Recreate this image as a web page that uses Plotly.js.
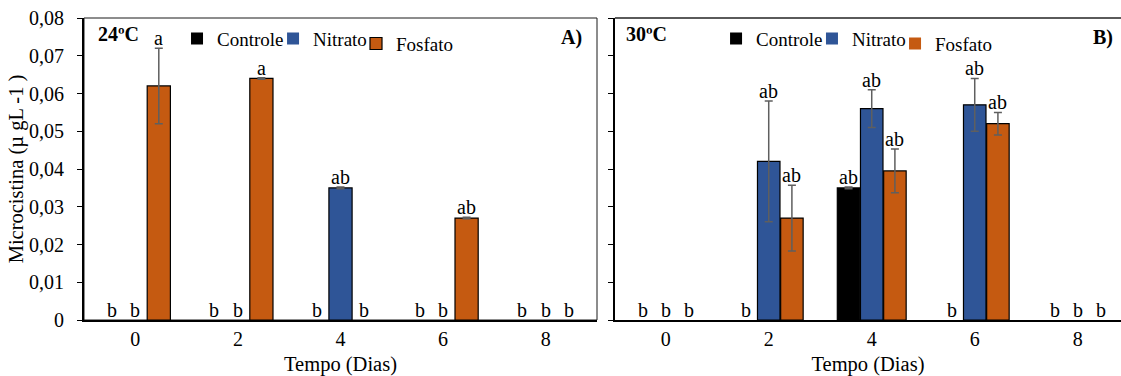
<!DOCTYPE html>
<html><head><meta charset="utf-8">
<script src="https://cdn.plot.ly/plotly-3.0.1.min.js"></script>
<style>html,body{margin:0;padding:0;background:#fff}#chart{width:1121px;height:376px}</style>
</head><body><div id="chart"></div>
<script>
// ---- data ----
const days = [0, 2, 4, 6, 8];
const seriesNames = ['Controle', 'Nitrato', 'Fosfato'];

// 24 ºC (panel A)
const controle24 = [0, 0, 0, 0, 0];
const nitrato24 = [0, 0, 0.035, 0, 0];
const fosfato24 = [0.062, 0.064, 0, 0.027, 0];
const controle24Err = [0, 0, 0, 0, 0];
const nitrato24Err = [0, 0, 0.0002, 0, 0];
const fosfato24Err = [0.010, 0.0002, 0, 0.0002, 0];
const controle24Letters = ['b', 'b', 'b', 'b', 'b'];
const nitrato24Letters = ['b', 'b', 'ab', 'b', 'b'];
const fosfato24Letters = ['a', 'a', 'b', 'ab', 'b'];

// 30 ºC (panel B)
const controle30 = [0, 0, 0.035, 0, 0];
const nitrato30 = [0, 0.042, 0.056, 0.057, 0];
const fosfato30 = [0, 0.027, 0.0395, 0.052, 0];
const controle30Err = [0, 0, 0.0002, 0, 0];
const nitrato30Err = [0, 0.016, 0.005, 0.007, 0];
const fosfato30Err = [0, 0.0087, 0.0058, 0.003, 0];
const controle30Letters = ['b', 'b', 'ab', 'b', 'b'];
const nitrato30Letters = ['b', 'ab', 'ab', 'ab', 'b'];
const fosfato30Letters = ['b', 'ab', 'ab', 'ab', 'b'];

const yTickVals = [0, 0.01, 0.02, 0.03, 0.04, 0.05, 0.06, 0.07, 0.08];
const yTickText = ['0', '0,01', '0,02', '0,03', '0,04', '0,05', '0,06', '0,07', '0,08'];
const xTickText = ['0', '2', '4', '6', '8'];

// ---- style ----
const colors = ['#000000', '#2F5597', '#C55A11'];
const FONT = 'Liberation Serif';
const BLACK = '#000000';
const panels = [
  {xa: 'x', ya: 'y', legends: ['legend', 'legend2', 'legend3'], pitch: 0.458, width: 0.452,
   vals: [controle24, nitrato24, fosfato24], errs: [controle24Err, nitrato24Err, fosfato24Err],
   letters: [controle24Letters, nitrato24Letters, fosfato24Letters]},
  {xa: 'x2', ya: 'y2', legends: ['legend4', 'legend5', 'legend6'], pitch: 0.45, width: 0.437,
   vals: [controle30, nitrato30, fosfato30], errs: [controle30Err, nitrato30Err, fosfato30Err],
   letters: [controle30Letters, nitrato30Letters, fosfato30Letters]}
];

const traces = [];
const annotations = [];
panels.forEach(function (p) {
  p.vals.forEach(function (vals, i) {
    const off = (i - 1) * p.pitch;
    traces.push({
      type: 'bar', name: seriesNames[i], x: days, y: vals, showlegend: true,
      xaxis: p.xa, yaxis: p.ya, legend: p.legends[i],
      width: p.width, offset: off - p.width / 2,
      marker: {color: colors[i], line: {color: BLACK, width: vals.map(function (v) { return v > 0 ? 1.2 : 0; })}},
      error_y: {type: 'data', array: p.errs[i].map(function (e, k) { return vals[k] > 0 ? e : NaN; }),
                visible: true, color: '#5f5f5f', thickness: 1.5, width: 4},
      hoverinfo: 'x+y+name'
    });
    days.forEach(function (d, k) {
      annotations.push({
        xref: p.xa, yref: p.ya, x: d + off, y: vals[k] + (vals[k] > 0 ? p.errs[i][k] : 0),
        text: p.letters[i][k], showarrow: false, yanchor: 'bottom', yshift: -3,
        font: {family: FONT, size: 20, color: BLACK}
      });
    });
  });
});

// panel labels
const panelFont = {family: FONT, size: 20, color: BLACK};
annotations.push(
  {xref: 'x domain', yref: 'y domain', x: 0.0234, y: 0.947, xanchor: 'left', yanchor: 'middle', showarrow: false,
   text: '<b>24ºC</b>', font: panelFont},
  {xref: 'x domain', yref: 'y domain', x: 0.974, y: 0.937, xanchor: 'right', yanchor: 'middle', showarrow: false,
   text: '<b>A)</b>', font: panelFont},
  {xref: 'x2 domain', yref: 'y2 domain', x: 0.018, y: 0.947, xanchor: 'left', yanchor: 'middle', showarrow: false,
   text: '<b>30ºC</b>', font: panelFont},
  {xref: 'x2 domain', yref: 'y2 domain', x: 0.988, y: 0.937, xanchor: 'right', yanchor: 'middle', showarrow: false,
   text: '<b>B)</b>', font: panelFont}
);

const tickFont = {family: FONT, size: 20, color: BLACK};
const titleFont = {family: FONT, size: 20.5, color: BLACK};
const legendFont = {family: FONT, size: 19, color: BLACK};
function legendAt(xFrac, yFrac) {
  return {orientation: 'h', x: xFrac, y: yFrac, xanchor: 'left', yanchor: 'middle',
          bgcolor: 'rgba(0,0,0,0)', font: legendFont, itemwidth: 30, visible: true};
}
const xAxisBase = {tickvals: days, ticktext: xTickText, showgrid: false, zeroline: false,
  showline: true, linecolor: BLACK, linewidth: 1.5, ticks: '', tickfont: tickFont,
  ticklabelstandoff: 0, fixedrange: true,
  title: {text: 'Tempo (Dias)', font: titleFont, standoff: 17}};

const layout = {
  width: 1121, height: 376,
  margin: {l: 84, r: 0, t: 18, b: 56},
  paper_bgcolor: '#fff', plot_bgcolor: 'rgba(0,0,0,0)',
  barmode: 'overlay',
  showlegend: true,
  font: {family: FONT, size: 20, color: BLACK},
  xaxis: Object.assign({}, xAxisBase, {domain: [0, 0.4947], range: [-1, 9], anchor: 'y'}),
  xaxis2: Object.assign({}, xAxisBase, {domain: [0.512, 1], range: [-0.986, 8.84], anchor: 'y2'}),
  yaxis: {domain: [0, 1], range: [0, 0.08], tickvals: yTickVals, ticktext: yTickText, anchor: 'x',
          showgrid: false, zeroline: false, showline: true, linecolor: BLACK, linewidth: 2,
          ticks: 'outside', ticklen: 5, tickwidth: 1, tickcolor: BLACK, tickfont: tickFont,
          ticklabelstandoff: 9, fixedrange: true,
          title: {text: 'Microcistina (µ gL -1 )', font: titleFont, standoff: 0}},
  yaxis2: {domain: [0, 1], range: [0, 0.08], tickvals: yTickVals, showticklabels: false, anchor: 'x2',
           showgrid: false, zeroline: false, showline: true, linecolor: BLACK, linewidth: 2,
           ticks: 'outside', ticklen: 5, tickwidth: 1, tickcolor: BLACK, fixedrange: true},
  shapes: [
    {type: 'rect', xref: 'x domain', yref: 'y domain', x0: 0, x1: 1, y0: 0, y1: 1,
     line: {color: '#1a1a1a', width: 1}, layer: 'below'},
    {type: 'line', xref: 'x2 domain', yref: 'y2 domain', x0: 0, x1: 1, y0: 1, y1: 1,
     line: {color: '#5a5a5a', width: 2}}
  ],
  legend: legendAt(0.0897, 0.932),
  legend2: legendAt(0.1823, 0.932),
  legend3: legendAt(0.2623, 0.915),
  legend4: legendAt(0.6095, 0.932),
  legend5: legendAt(0.7020, 0.932),
  legend6: legendAt(0.7821, 0.915),
  annotations: annotations
};

Plotly.newPlot('chart', traces, layout, {displayModeBar: false, staticPlot: true});
</script>
</body></html>
